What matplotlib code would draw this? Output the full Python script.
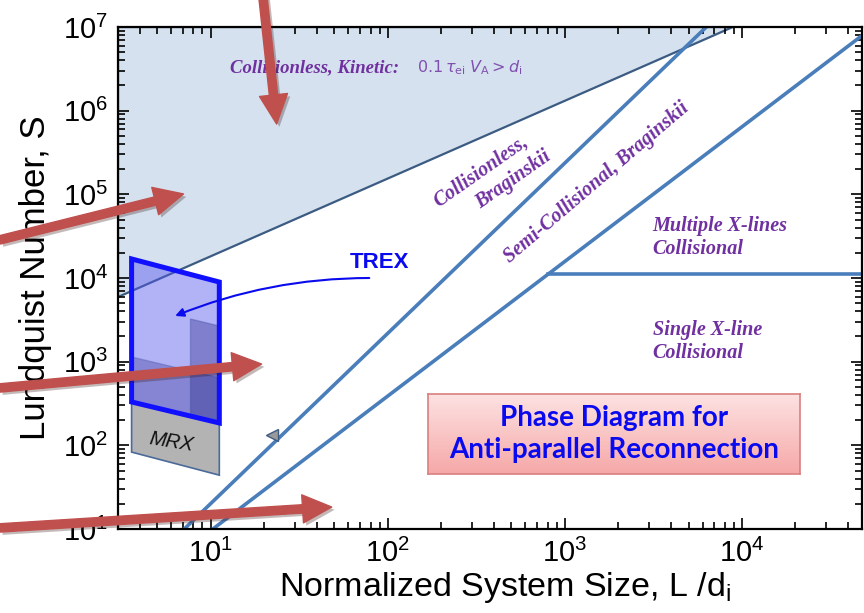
import matplotlib.pyplot as plt
import matplotlib.patheffects as pe
from matplotlib.patches import Polygon
from matplotlib.ticker import LogLocator, NullFormatter
import numpy as np

plt.rcParams['font.family'] = ['Liberation Sans', 'DejaVu Sans']

# region boundaries, x = L/d_i, y = Lundquist number S
kinetic_L = [3.0, 8900, 3.0]
kinetic_S = [5930, 1e7, 1e7]

brag_L = [7.1, 6300]          # collisionless / collisional (Braginskii) boundary
brag_S = [10, 1e7]
semi_L = [10.3, 4.77e4]       # semi-collisional / collisional boundary
semi_S = [10, 7.9e6]
multi_L = [802, 4.77e4]       # plasmoid (multiple X-line) threshold
multi_S = [1.12e4, 1.12e4]

# experiments
trex_L = [3.58, 11.2, 11.2, 3.58]
trex_S = [16900, 8950, 185, 330]
trex_band_S = [1140, 640, 185, 330]
trex_strip_L = [7.7, 11.2, 11.2, 7.7]
trex_strip_S = [3240, 2670, 185, 224]
mrx_L = [3.58, 11.2, 11.2, 3.58]
mrx_S = [330, 185, 44, 83]

# red pointer arrows (tail -> head)
red_tail = [(19.7, 2.41e7), (0.643, 2.85e4), (0.643, 485), (0.643, 10.3)]
red_head = [(23.6, 6.93e5), (7.03, 1.01e5), (19.4, 937), (48.3, 18.3)]

purple = '#7030a0'
line_blue = '#4a7ebb'

fig = plt.figure(figsize=(8.64, 6.13), dpi=100)
ax = fig.add_axes([118 / 864, 84 / 613, 744 / 864, 502 / 613])
ax.set_xscale('log')
ax.set_yscale('log')

# collisionless kinetic region
ax.add_patch(Polygon(np.column_stack([kinetic_L, kinetic_S]), closed=True,
                     facecolor='#d5e1ee', edgecolor='#3b5b82', lw=1.6, zorder=1))

ax.plot(brag_L, brag_S, color=line_blue, lw=2.6, zorder=2)
ax.plot(semi_L, semi_S, color=line_blue, lw=2.6, zorder=2)
ax.plot(multi_L, multi_S, color=line_blue, lw=2.6, zorder=2)

# MRX
ax.add_patch(Polygon(np.column_stack([mrx_L, mrx_S]), closed=True,
                     facecolor='#b3b3b3', edgecolor='#4a6a9a', lw=1.2, zorder=3))
ax.text(6.0, 110, 'MRX', style='italic', fontsize=14.5, color='#111111',
        rotation=-9, ha='center', va='center', zorder=4)

# TREX
ax.add_patch(Polygon(np.column_stack([trex_L, trex_S]), closed=True,
                     facecolor='#5555ee', alpha=0.45, edgecolor='none', zorder=3))
ax.add_patch(Polygon(np.column_stack([trex_L, trex_band_S]), closed=True,
                     facecolor='#202080', alpha=0.3, edgecolor='#3a4a9a', lw=1.0, zorder=3))
ax.add_patch(Polygon(np.column_stack([trex_strip_L, trex_strip_S]), closed=True,
                     facecolor='#202080', alpha=0.35, edgecolor='#3a4a9a', lw=1.0, zorder=3))
ax.add_patch(Polygon(np.column_stack([trex_L, trex_S]), closed=True,
                     facecolor='none', edgecolor='#1010ff', lw=3.6, zorder=4))

ax.text(90, 15500, 'TREX', color='#0a0aee', fontsize=16, fontweight='bold',
        ha='center', va='center', zorder=5)
ax.annotate('', xy=(6.1, 3420), xytext=(81.6, 1.0e4),
            arrowprops=dict(arrowstyle='-|>,head_length=0.5,head_width=0.25',
                            color='#0a0aee', lw=1.5,
                            connectionstyle='arc3,rad=0.1'), zorder=5)

# small grey arrowhead left on the Braginskii line
ax.plot([22.1], [133], marker='<', markersize=8, color='#9a9a9a',
        markeredgecolor='#3b5b82', zorder=4)

# region labels
lab = dict(color=purple, family=['Liberation Serif', 'DejaVu Serif'],
           style='italic', fontweight='bold', fontsize=14.5)
ax.text(12.8, 3.24e6, 'Collisionless, Kinetic:', ha='left', va='center',
        **{**lab, 'fontsize': 13.5})
ax.text(146, 3.24e6, r'$0.1\,\tau_{\rm ei}\;V_{\rm A} > d_{\rm i}$', color='#8050b0',
        fontsize=11.5, ha='left', va='center')
ax.text(335, 1.9e5, 'Collisionless,', rotation=35, ha='center', va='center', **lab)
ax.text(510, 1.5e5, 'Braginskii', rotation=35, ha='center', va='center', **lab)
ax.text(1517, 1.37e5, 'Semi-Collisional, Braginskii', rotation=40.5,
        ha='center', va='center', **lab)
ax.text(3140, 3.09e4, 'Multiple X-lines\nCollisional', ha='left', va='center',
        linespacing=1.2, **lab)
ax.text(3140, 1742, 'Single X-line\nCollisional', ha='left', va='center',
        linespacing=1.2, **lab)

# red pointer arrows
for tail, head in zip(red_tail, red_head):
    ax.annotate('', xy=head, xytext=tail, annotation_clip=False,
                arrowprops=dict(arrowstyle='simple,head_width=1.35,head_length=1.4,tail_width=0.4',
                                mutation_scale=15, color='#c0504d', shrinkA=0, shrinkB=0,
                                path_effects=[pe.SimplePatchShadow(offset=(2, -2), alpha=0.3),
                                              pe.Normal()]),
                zorder=6)

ax.set_xlim(3.0, 4.77e4)
ax.set_ylim(10, 1e7)

for loc in (ax.xaxis, ax.yaxis):
    loc.set_major_locator(LogLocator(base=10, numticks=12))
    loc.set_minor_locator(LogLocator(base=10, subs=np.arange(2, 10), numticks=12))
    loc.set_minor_formatter(NullFormatter())
ax.tick_params(which='both', direction='in', top=True, right=True, width=1.2,
               labelsize=21, colors='black')
ax.tick_params(which='major', length=8, pad=7)
ax.tick_params(which='minor', length=5)
for s in ax.spines.values():
    s.set_linewidth(1.6)

ax.set_xlabel(r'Normalized System Size, L /d$_\mathregular{i}$', fontsize=24.5)
ax.set_ylabel('Lundquist Number, S', fontsize=25)
ax.xaxis.set_label_coords(0.52, -0.082)
ax.yaxis.set_label_coords(-0.089, 0.5)

# title box with pink gradient
bax = fig.add_axes([428 / 864, (613 - 474) / 613, 372 / 864, 80 / 613])
grad = np.linspace(0, 1, 100)[:, None]
top_c = np.array([253, 226, 226]) / 255
bot_c = np.array([246, 168, 168]) / 255
img = top_c[None, None, :] * (1 - grad[:, :, None]) + bot_c[None, None, :] * grad[:, :, None]
bax.imshow(img, aspect='auto', extent=(0, 1, 0, 1))
bax.set_xlim(0, 1)
bax.set_ylim(0, 1)
bax.set_xticks([])
bax.set_yticks([])
for s in bax.spines.values():
    s.set_color('#d98080')
    s.set_linewidth(1.2)
bax.text(0.5, 0.5, 'Phase Diagram for\nAnti-parallel Reconnection',
         family=['Lato', 'DejaVu Sans'], fontweight='bold', fontsize=20,
         color='#0a0aee', ha='center', va='center', linespacing=1.25)

fig.savefig('out.png', dpi=100)
